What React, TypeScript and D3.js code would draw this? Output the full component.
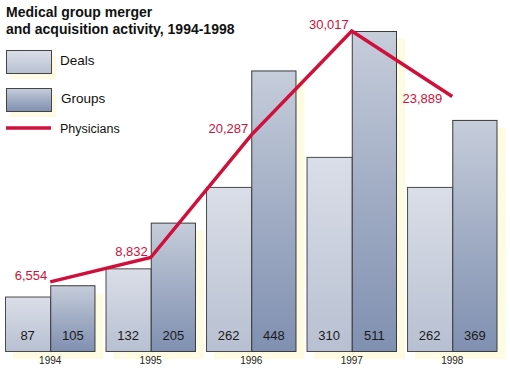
import * as d3 from 'd3'

const years = ['1994', '1995', '1996', '1997', '1998']
const deals = [87, 132, 262, 310, 262]
const groups = [105, 205, 448, 511, 369]
const physicians = [6554, 8832, 20287, 30017, 23889]

const W = 510
const H = 370
const base = 351
const narrow = "'Liberation Sans Narrow', 'Arial Narrow', 'Liberation Sans', Arial, sans-serif"
const sans = "'Liberation Sans', Arial, Helvetica, sans-serif"
const red = '#d0103a'
const shade = '#fdfbe2'

export default function App() {
  const x = d3.scaleBand<string>().domain(years).range([5, 497.5]).paddingInner(0.1).paddingOuter(0)
  const bw = x.bandwidth() / 2
  const y = d3.scaleLinear().domain([0, 511]).range([base, 31])
  const yP = d3.scaleLinear().domain([0, 30017]).range([352, 31])

  const px = (i: number) => (x(years[i]) as number) + bw
  const line = d3
    .line<number>()
    .x((_, i) => px(i))
    .y((d) => yP(d))

  return (
    <svg width={W} height={H} style={{ position: 'absolute', left: 0, top: 0, background: '#fff' }}>
      <defs>
        <linearGradient id="gDeals" x1="0" y1="0" x2="0" y2="1">
          <stop offset="0" stopColor="#dadee8" />
          <stop offset="0.5" stopColor="#c9cfdc" />
          <stop offset="1" stopColor="#b7c0d2" />
        </linearGradient>
        <linearGradient id="gGroups" x1="0" y1="0" x2="0" y2="1">
          <stop offset="0" stopColor="#c6cddb" />
          <stop offset="0.5" stopColor="#a1adc4" />
          <stop offset="1" stopColor="#8090b1" />
        </linearGradient>
      </defs>

      <text x={6} y={17} fontFamily={sans} fontWeight="bold" fontSize={14} fill="#111">
        Medical group merger
      </text>
      <text x={6} y={34} fontFamily={sans} fontWeight="bold" fontSize={14} fill="#111">
        and acquisition activity, 1994-1998
      </text>

      {/* legend */}
      <rect x={10} y={56} width={46} height={23} fill={shade} />
      <rect x={6.5} y={50.5} width={45} height={23} fill="url(#gDeals)" stroke="#444" />
      <text x={60} y={65} fontFamily={narrow} fontSize={13.5} fill="#111">Deals</text>
      <rect x={10} y={94} width={46} height={23} fill={shade} />
      <rect x={6.5} y={88.5} width={45} height={23} fill="url(#gGroups)" stroke="#444" />
      <text x={61} y={103} fontFamily={narrow} fontSize={13.5} fill="#111">Groups</text>
      <line x1={6} x2={51} y1={128} y2={128} stroke={red} strokeWidth={3.5} />
      <text x={60} y={133} fontFamily={narrow} fontSize={12.5} fill="#111">Physicians</text>

      {years.map((yr, i) => {
        const x0 = x(yr) as number
        return (
          <g key={yr}>
            <rect x={x0 + 8} y={y(deals[i]) + 8} width={bw} height={base - y(deals[i])} fill={shade} />
            <rect x={x0 + bw + 8} y={y(groups[i]) + 8} width={bw} height={base - y(groups[i])} fill={shade} />
            <rect x={x0 + 0.5} y={y(deals[i]) + 0.5} width={bw} height={base - y(deals[i])} fill="url(#gDeals)" stroke="#4a4a4a" />
            <rect x={x0 + bw + 0.5} y={y(groups[i]) + 0.5} width={bw - 1} height={base - y(groups[i])} fill="url(#gGroups)" stroke="#3a3a3a" />
            <text x={x0 + bw / 2} y={340} textAnchor="middle" fontFamily={narrow} fontSize={13} fill="#1a1a1a">{deals[i]}</text>
            <text x={x0 + bw * 1.5} y={340} textAnchor="middle" fontFamily={narrow} fontSize={13} fill="#1a1a1a">{groups[i]}</text>
            <text x={x0 + bw} y={364} textAnchor="middle" fontFamily={narrow} fontSize={10} fill="#222">{yr}</text>
          </g>
        )
      })}

      <path d={line(physicians) || ''} fill="none" stroke={red} strokeWidth={3.5} strokeLinejoin="miter" />
      {physicians.map((v, i) => {
        const last = i === physicians.length - 1
        return (
          <text
            key={i}
            x={px(i) - (last ? 10 : 3)}
            y={yP(v) + (last ? 6 : -2)}
            textAnchor="end"
            fontFamily={narrow}
            fontSize={13}
            fill={red}
          >
            {d3.format(',')(v)}
          </text>
        )
      })}
    </svg>
  )
}
